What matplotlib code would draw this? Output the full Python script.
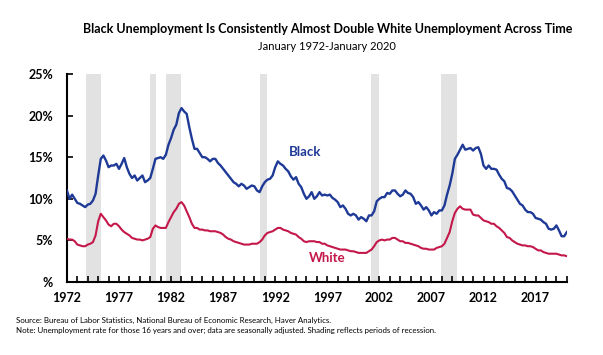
import numpy as np
import matplotlib
matplotlib.use("Agg")
import matplotlib.pyplot as plt

plt.rcParams['font.family'] = ['Lato', 'DejaVu Sans']

# quarterly readings, 1972Q1 .. 2020Q1 (percent)
black = [11.0, 10.0, 10.5, 10.0,
         9.5, 9.4, 9.2, 9.0,
         9.3, 9.4, 9.8, 10.6,
         12.8, 14.8, 15.2, 14.6,
         13.8, 14.0, 14.0, 14.2,
         13.6, 14.2, 14.9, 13.8,
         13.0, 12.5, 12.8, 12.2,
         12.5, 12.8, 12.0, 12.2,
         12.5, 13.6, 14.8, 14.9,
         15.0, 14.8, 15.3, 16.5,
         17.3, 18.3, 18.9, 20.3,
         20.9, 20.5, 20.2, 18.6,
         17.2, 16.0, 16.0, 15.5,
         15.0, 15.0, 14.8, 14.5,
         14.8, 14.8, 14.3, 14.0,
         13.6, 13.2, 12.8, 12.4,
         12.0, 11.8, 11.5, 11.8,
         11.6, 11.2, 11.4, 11.6,
         11.5, 11.0, 10.8, 11.5,
         12.0, 12.3, 12.4, 12.8,
         13.8, 14.5, 14.2, 14.0,
         13.6, 13.3, 12.7, 12.3,
         12.6, 11.8, 11.4, 10.6,
         10.0, 10.3, 10.8, 10.0,
         10.3, 10.8, 10.4, 10.5,
         10.4, 10.5, 10.1, 9.9,
         9.6, 9.0, 9.2, 8.8,
         8.2, 8.0, 8.2, 8.0,
         7.5, 7.8, 7.6, 7.3,
         8.0, 8.0, 8.5, 9.7,
         10.0, 10.2, 10.2, 10.7,
         10.6, 11.0, 11.0, 10.6,
         10.3, 10.5, 11.0, 10.7,
         10.6, 10.2, 9.4, 9.6,
         9.2, 8.7, 9.0, 8.6,
         8.0, 8.4, 8.2, 8.6,
         8.6, 9.2, 10.5, 11.6,
         13.0, 14.8, 15.3, 15.9,
         16.5, 15.9, 16.0, 16.1,
         15.8, 16.1, 16.2, 15.4,
         14.0, 13.6, 14.0, 13.6,
         13.6, 13.5, 12.9, 12.4,
         12.1, 11.3, 11.2, 10.9,
         10.4, 9.9, 9.4, 9.2,
         8.7, 8.4, 8.4, 8.2,
         7.7, 7.6, 7.5, 7.2,
         7.0, 6.4, 6.3, 6.4,
         6.8, 6.2, 5.5, 5.5,
         6.0]

white = [5.2, 5.1, 5.1, 4.9,
         4.5, 4.4, 4.3, 4.3,
         4.5, 4.6, 4.8, 5.6,
         7.3, 8.2, 7.8, 7.4,
         6.9, 6.7, 7.0, 7.0,
         6.7, 6.3, 6.0, 5.8,
         5.6, 5.3, 5.2, 5.1,
         5.1, 5.0, 5.1, 5.2,
         5.4, 6.4, 6.8, 6.6,
         6.5, 6.5, 6.5, 7.2,
         7.8, 8.4, 8.8, 9.4,
         9.6, 9.2, 8.5, 7.8,
         7.0, 6.5, 6.5, 6.3,
         6.3, 6.2, 6.2, 6.1,
         6.1, 6.1, 6.0, 5.9,
         5.7, 5.4, 5.2, 5.1,
         4.9, 4.8, 4.7, 4.6,
         4.5, 4.5, 4.5, 4.6,
         4.6, 4.6, 4.8, 5.1,
         5.6, 5.9, 6.0, 6.1,
         6.3, 6.5, 6.5, 6.3,
         6.2, 6.1, 5.9, 5.8,
         5.7, 5.4, 5.2, 4.9,
         4.8, 4.9, 4.9, 4.9,
         4.8, 4.8, 4.6, 4.6,
         4.4, 4.3, 4.2, 4.1,
         4.0, 3.9, 3.9, 3.9,
         3.8, 3.7, 3.7, 3.6,
         3.5, 3.5, 3.5, 3.5,
         3.7, 3.9, 4.3, 4.8,
         5.0, 5.1, 5.0, 5.1,
         5.1, 5.3, 5.3, 5.1,
         4.9, 4.9, 4.7, 4.7,
         4.6, 4.5, 4.4, 4.3,
         4.1, 4.0, 4.0, 3.9,
         3.9, 3.9, 4.1, 4.2,
         4.3, 4.6, 5.3, 6.0,
         7.3, 8.3, 8.8, 9.1,
         8.8, 8.7, 8.7, 8.7,
         8.1, 8.0, 8.0, 7.7,
         7.4, 7.3, 7.2, 7.0,
         7.0, 6.7, 6.5, 6.2,
         5.9, 5.4, 5.3, 5.0,
         4.8, 4.6, 4.5, 4.4,
         4.4, 4.3, 4.3, 4.2,
         4.0, 3.8, 3.8, 3.6,
         3.5, 3.4, 3.4, 3.4,
         3.4, 3.3, 3.2, 3.2,
         3.1]

# NBER recessions (start, end) in decimal years
recessions = [(1973.83, 1975.25), (1980.0, 1980.58), (1981.5, 1982.92),
              (1990.5, 1991.25), (2001.17, 2001.92), (2007.92, 2009.5)]

year_labels = [1972, 1977, 1982, 1987, 1992, 1997, 2002, 2007, 2012, 2017]
y_ticks = [0, 5, 10, 15, 20, 25]
y_labels = ['%', '5%', '10%', '15%', '20%', '25%']

t = 1972 + np.arange(len(black)) * 0.25

blue = '#1f3a96'
red = '#c4174a'

fig = plt.figure(figsize=(6.03, 3.55), dpi=100)
ax = fig.add_axes([0.111, 0.2056, 0.829, 0.586])

for s, e in recessions:
    ax.axvspan(s, e, color='#e2e2e2', lw=0, zorder=0)

ax.plot(t, black, color=blue, lw=1.7, zorder=3)
ax.plot(t, white, color=red, lw=1.5, zorder=3)

ax.set_xlim(1972, 2020)
ax.set_ylim(0, 25)
ax.set_xticks(year_labels)
ax.set_xticklabels([str(y) for y in year_labels], fontweight='bold', fontsize=9)
ax.set_xticks(np.arange(1972, 2021), minor=True)
ax.tick_params(axis='x', which='both', direction='in', length=4, width=1.2, pad=7)
ax.set_yticks(y_ticks)
ax.set_yticklabels(y_labels, fontweight='bold', fontsize=9)
ax.tick_params(axis='y', direction='in', length=4, width=1.2, pad=10)

for side in ['top', 'right']:
    ax.spines[side].set_visible(False)
for side in ['left', 'bottom']:
    ax.spines[side].set_linewidth(1.5)

ax.text(1993.3, 15.2, 'Black', color=blue, fontsize=9.5, fontweight='bold')
ax.text(1995.2, 2.4, 'White', color=red, fontsize=9.5, fontweight='bold')

fig.text(0.543, 0.918, 'Black Unemployment Is Consistently Almost Double White Unemployment Across Time',
         ha='center', va='center', fontsize=9, fontweight='bold')
fig.text(0.543, 0.868, 'January 1972-January 2020', ha='center', va='center', fontsize=8)

fig.text(0.027, 0.096, 'Source: Bureau of Labor Statistics, National Bureau of Economic Research, Haver Analytics.',
         fontsize=5.7, va='center')
fig.text(0.027, 0.068, 'Note: Unemployment rate for those 16 years and over; data are seasonally adjusted. '
         'Shading reflects periods of recession.', fontsize=5.7, va='center')

fig.savefig('out.png', dpi=100)
